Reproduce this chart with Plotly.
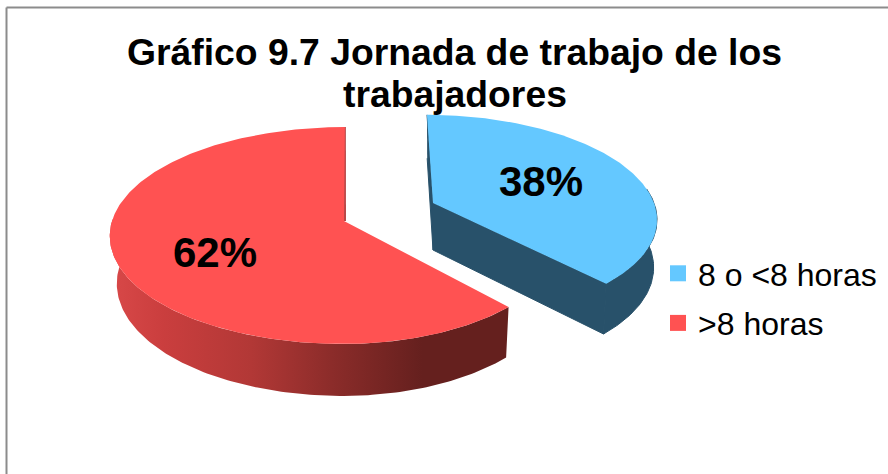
import numpy as np
import plotly.graph_objects as go

# values
categories = ["8 o <8 horas", ">8 horas"]
shares = [38, 62]
top_colors = ["#64C8FF", "#FF5252"]
title_lines = ["Gráfico 9.7 Jornada de trabajo de los", "trabajadores"]

FONT = "Liberation Sans"
WALL_BLUE = "#28516A"

# perspective of the tilted pie, in pixels of the 888x474 page
TILT = 0.134
RADIUS_Y = 106.5
DEPTH = 47
SHRINK_LEFT = 0.97
SHRINK_RIGHT = 0.985
STRETCH_Y = 1.04

# per slice placement: apex, horizontal radius left/right of the apex, lean
slices = [
    dict(cx=433, cy=203, left=221, right=221, lean=6.8, ry=100),
    dict(cx=344, cy=221, left=232, right=218, lean=-1, ry=RADIUS_Y),
]

# side wall shading of the red slice, left to right
red_wall_scale = [
    [0.00, "rgb(216,72,72)"],
    [0.13, "rgb(202,62,62)"],
    [0.35, "rgb(178,56,54)"],
    [0.55, "rgb(140,44,42)"],
    [0.78, "rgb(101,32,30)"],
    [1.00, "rgb(101,32,30)"],
]


def project(theta, s):
    # theta runs clockwise from twelve o'clock
    sx = np.sin(theta)
    sy = -np.cos(theta)
    d = 1 - TILT * sy
    rx = np.where(sx < 0, s["left"], s["right"])
    return s["cx"] + (rx * sx + s["lean"] * sy) / d, s["cy"] + s["ry"] * sy / d


def drop(x, y, s):
    # same outline at the bottom of the slab
    shrink = np.where(np.asarray(x) < s["cx"], SHRINK_LEFT, SHRINK_RIGHT)
    return s["cx"] + (x - s["cx"]) * shrink, s["cy"] + (y - s["cy"]) * STRETCH_Y + DEPTH


def poly(x, y, color, line=1):
    return go.Scatter(
        x=list(x), y=list(y), mode="lines", fill="toself", fillcolor=color,
        line=dict(color=color, width=line), showlegend=False, hoverinfo="skip",
    )


fractions = np.cumsum([0] + shares) / sum(shares)
angles = 2 * np.pi * fractions

fig = go.Figure()

# blue slice
s = slices[0]
th = np.linspace(angles[0], angles[1], 160)
x, y = project(th, s)
bx, by = drop(x, y, s)
ax, ay = drop(s["cx"], s["cy"], s)
# cut walls and rounded wall
fig.add_trace(poly([x[0], s["cx"], ax, bx[0]], [y[0], s["cy"], ay, by[0]], WALL_BLUE))
fig.add_trace(poly([s["cx"], x[-1], bx[-1], ax], [s["cy"], y[-1], by[-1], ay], WALL_BLUE))
front = th > np.pi * 0.45
fig.add_trace(poly(np.r_[x[front], bx[front][::-1]], np.r_[y[front], by[front][::-1]], WALL_BLUE))
fig.add_trace(poly(np.r_[s["cx"], x], np.r_[s["cy"], y], top_colors[0], line=0))

# red slice
s = slices[1]
th = np.linspace(angles[1], angles[2], 240)
x, y = project(th, s)
bx, by = drop(x, y, s)
wall = th < np.radians(272)
fig.add_trace(go.Scatter(
    x=np.r_[x[wall], bx[wall][::-1]], y=np.r_[y[wall], by[wall][::-1]],
    mode="lines", fill="toself", line=dict(width=0), showlegend=False, hoverinfo="skip",
    fillgradient=dict(type="horizontal", colorscale=red_wall_scale, start=112, stop=510),
))
fig.add_trace(go.Scatter(x=[x[-1], s["cx"] + 1], y=[y[-1], s["cy"]], mode="lines",
                         line=dict(color="#B84848", width=2), showlegend=False, hoverinfo="skip"))
fig.add_trace(poly(np.r_[s["cx"], x], np.r_[s["cy"], y], top_colors[1], line=0))

# legend entries
for name, color in zip(categories, top_colors):
    fig.add_trace(go.Scatter(
        x=[None], y=[None], mode="markers", name=name, legendgroup=name,
        marker=dict(symbol="square", size=17, color=color),
    ))

# percent labels
for share, lx, ly in zip(shares, [541, 215], [181, 252]):
    fig.add_annotation(x=lx, y=ly, text=f"{share}%", showarrow=False,
                       font=dict(family=FONT, size=42, color="black", weight="bold"))

# title, two lines
for line, ty in zip(title_lines, [52, 94]):
    fig.add_annotation(x=454.5, y=ty, text=line, showarrow=False,
                       font=dict(family=FONT, size=37.3, color="black", weight="bold"))

# chart frame runs off the page on the right and bottom
fig.add_shape(type="line", x0=6.5, x1=888, y0=7.5, y1=7.5, line=dict(color="#8C8C8C", width=2))
fig.add_shape(type="line", x0=6.5, x1=6.5, y0=7.5, y1=474, line=dict(color="#8C8C8C", width=2))

fig.update_layout(
    width=888, height=474,
    margin=dict(l=0, r=0, t=0, b=0),
    paper_bgcolor="white", plot_bgcolor="white",
    xaxis=dict(range=[0, 888], visible=False),
    yaxis=dict(range=[474, 0], visible=False),
    legend=dict(
        x=658 / 888, y=1 - 246 / 474, xanchor="left", yanchor="top",
        font=dict(family=FONT, size=32, color="black"),
        tracegroupgap=5, itemwidth=30, bgcolor="rgba(0,0,0,0)",
    ),
    showlegend=True,
)

# the page's default body margin would push the chart 8px off
fig.write_html("out.html", config=dict(displayModeBar=False),
               post_script="document.body.style.margin='0';")
